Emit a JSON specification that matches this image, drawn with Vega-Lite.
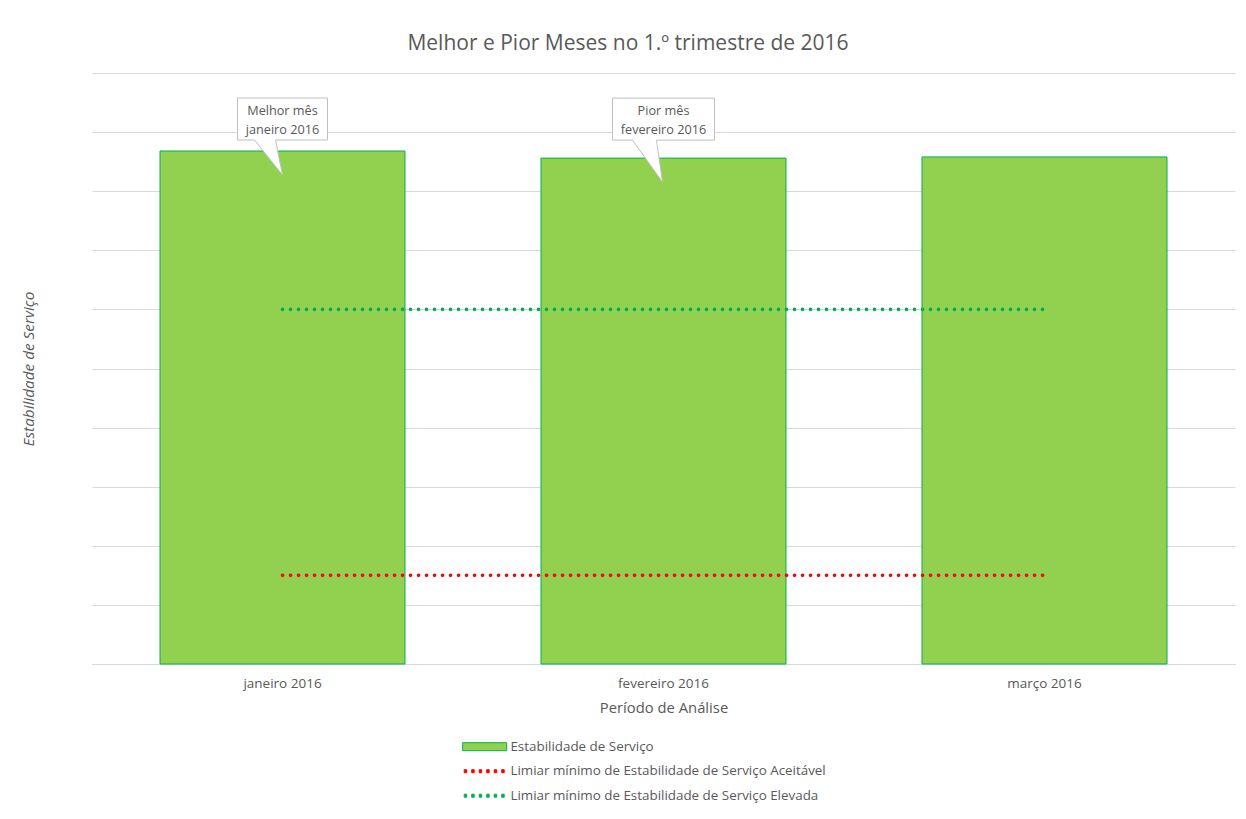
{
  "$schema": "https://vega.github.io/schema/vega-lite/v6.json",
  "width": 1143,
  "height": 591,
  "autosize": {"type": "none"},
  "padding": {"left": 92, "top": 73, "right": 11, "bottom": 155},
  "background": "white",
  "config": {
    "font": "Open Sans",
    "view": {"stroke": null},
    "axis": {"labelColor": "#595959", "titleColor": "#595959", "gridColor": "#D9D9D9", "domainColor": "#D9D9D9", "titleFontWeight": "normal"}
  },
  "title": {
    "text": "Melhor e Pior Meses no 1.º trimestre de 2016",
    "fontSize": 21,
    "fontWeight": "normal",
    "color": "#595959",
    "anchor": "middle",
    "frame": "bounds",
    "offset": 19
  },
  "datasets": {
    "meses": [
      {"mes": "janeiro 2016", "valor": 0.868, "anotacao": "Melhor mês\njaneiro 2016"},
      {"mes": "fevereiro 2016", "valor": 0.856, "anotacao": "Pior mês\nfevereiro 2016"},
      {"mes": "março 2016", "valor": 0.858, "anotacao": ""}
    ],
    "limiares": [
      {"mes": "janeiro 2016", "serie": "Limiar mínimo de Estabilidade de Serviço Aceitável", "valor": 0.15},
      {"mes": "março 2016", "serie": "Limiar mínimo de Estabilidade de Serviço Aceitável", "valor": 0.15},
      {"mes": "janeiro 2016", "serie": "Limiar mínimo de Estabilidade de Serviço Elevada", "valor": 0.6},
      {"mes": "março 2016", "serie": "Limiar mínimo de Estabilidade de Serviço Elevada", "valor": 0.6}
    ],
    "legenda": [
      {"serie": "Estabilidade de Serviço"},
      {"serie": "Limiar mínimo de Estabilidade de Serviço Aceitável"},
      {"serie": "Limiar mínimo de Estabilidade de Serviço Elevada"}
    ]
  },
  "layer": [
    {
      "data": {"name": "meses"},
      "mark": {"type": "bar", "fill": "#92D050", "stroke": "#00B050", "strokeWidth": 1},
      "encoding": {
        "x": {
          "field": "mes",
          "type": "nominal",
          "sort": ["janeiro 2016", "fevereiro 2016", "março 2016"],
          "scale": {"paddingInner": 0.357, "paddingOuter": 0.1785},
          "axis": {"title": "Período de Análise", "labelAngle": 0, "ticks": false, "labelPadding": 12, "labelFontSize": 13.5, "titleFontSize": 14.8, "titlePadding": 11, "grid": false}
        },
        "y": {
          "field": "valor",
          "type": "quantitative",
          "scale": {"domain": [0, 1], "nice": false},
          "axis": {"title": "Estabilidade de Serviço", "labels": false, "ticks": false, "domain": false, "values": [0, 0.1, 0.2, 0.3, 0.4, 0.5, 0.6, 0.7, 0.8, 0.9, 1], "titleFontStyle": "italic", "titleFontSize": 15.3, "titlePadding": 56}
        }
      }
    },
    {
      "data": {"name": "limiares"},
      "mark": {"type": "line", "strokeWidth": 3.6, "strokeCap": "round", "strokeDash": [0.1, 7.9]},
      "encoding": {
        "x": {"field": "mes", "type": "nominal", "sort": ["janeiro 2016", "fevereiro 2016", "março 2016"]},
        "y": {"field": "valor", "type": "quantitative"},
        "detail": {"field": "serie"},
        "color": {
          "field": "serie",
          "type": "nominal",
          "scale": {"domain": ["Limiar mínimo de Estabilidade de Serviço Aceitável", "Limiar mínimo de Estabilidade de Serviço Elevada"], "range": ["#FF0000", "#00B050"]},
          "legend": null
        }
      }
    },
    {
      "data": {"name": "meses"},
      "transform": [{"filter": "datum.mes === 'janeiro 2016'"}],
      "mark": {"type": "point", "shape": "M-45,-53 H45 V-11 H-7 L0,24 L-28,-11 H-45 Z", "size": 4, "filled": true, "fill": "white", "stroke": "#BFBFBF", "strokeWidth": 1, "opacity": 1},
      "encoding": {
        "x": {"field": "mes", "type": "nominal", "sort": ["janeiro 2016", "fevereiro 2016", "março 2016"]},
        "y": {"field": "valor", "type": "quantitative"}
      }
    },
    {
      "data": {"name": "meses"},
      "transform": [{"filter": "datum.mes === 'fevereiro 2016'"}],
      "mark": {"type": "point", "shape": "M-51,-60 H51 V-18 H-7 L-1,24 L-31,-18 H-51 Z", "size": 4, "filled": true, "fill": "white", "stroke": "#BFBFBF", "strokeWidth": 1, "opacity": 1},
      "encoding": {
        "x": {"field": "mes", "type": "nominal", "sort": ["janeiro 2016", "fevereiro 2016", "março 2016"]},
        "y": {"field": "valor", "type": "quantitative"}
      }
    },
    {
      "data": {"name": "meses"},
      "transform": [{"filter": "datum.mes === 'janeiro 2016'"}],
      "mark": {"type": "text", "lineBreak": "\n", "lineHeight": 19, "baseline": "middle", "align": "center", "fontSize": 12.7, "color": "#595959", "yOffset": -40},
      "encoding": {
        "x": {"field": "mes", "type": "nominal", "sort": ["janeiro 2016", "fevereiro 2016", "março 2016"]},
        "y": {"field": "valor", "type": "quantitative"},
        "text": {"field": "anotacao"}
      }
    },
    {
      "data": {"name": "meses"},
      "transform": [{"filter": "datum.mes === 'fevereiro 2016'"}],
      "mark": {"type": "text", "lineBreak": "\n", "lineHeight": 19, "baseline": "middle", "align": "center", "fontSize": 12.7, "color": "#595959", "yOffset": -47},
      "encoding": {
        "x": {"field": "mes", "type": "nominal", "sort": ["janeiro 2016", "fevereiro 2016", "março 2016"]},
        "y": {"field": "valor", "type": "quantitative"},
        "text": {"field": "anotacao"}
      }
    },
    {
      "data": {"name": "legenda"},
      "mark": {"type": "point", "filled": true, "size": 4, "opacity": 0, "strokeWidth": 1},
      "encoding": {
        "fill": {
          "field": "serie",
          "type": "nominal",
          "scale": {"domain": ["Estabilidade de Serviço", "Limiar mínimo de Estabilidade de Serviço Aceitável", "Limiar mínimo de Estabilidade de Serviço Elevada"], "range": ["#92D050", "#FF0000", "#00B050"]},
          "legend": {
            "title": null,
            "orient": "none",
            "legendX": 364,
            "legendY": 667,
            "direction": "vertical",
            "symbolSize": 4,
            "symbolOpacity": 1,
            "symbolStrokeWidth": 1,
            "labelOffset": 41,
            "labelFontSize": 13.4,
            "labelColor": "#595959",
            "labelLimit": 600,
            "rowPadding": 9.5,
            "encode": {"symbols": {"update": {"fill": {"scale": "fill", "field": "value"}, "fillOpacity": {"value": 1}, "opacity": {"value": 1}}}}
          }
        },
        "shape": {
          "field": "serie",
          "type": "nominal",
          "scale": {"domain": ["Estabilidade de Serviço", "Limiar mínimo de Estabilidade de Serviço Aceitável", "Limiar mínimo de Estabilidade de Serviço Elevada"], "range": [
            "M0,-4 H44 V4 H0 Z",
            "M1.5,-1.5 h2.5 v3 h-2.5 Z M9,-1.5 h2.5 v3 h-2.5 Z M16.5,-1.5 h2.5 v3 h-2.5 Z M24,-1.5 h2.5 v3 h-2.5 Z M31.5,-1.5 h2.5 v3 h-2.5 Z M39,-1.5 h2.5 v3 h-2.5 Z",
            "M1.5,-1.5 h2.5 v3 h-2.5 Z M9,-1.5 h2.5 v3 h-2.5 Z M16.5,-1.5 h2.5 v3 h-2.5 Z M24,-1.5 h2.5 v3 h-2.5 Z M31.5,-1.5 h2.5 v3 h-2.5 Z M39,-1.5 h2.5 v3 h-2.5 Z"
          ]}
        },
        "stroke": {
          "field": "serie",
          "type": "nominal",
          "scale": {"domain": ["Estabilidade de Serviço", "Limiar mínimo de Estabilidade de Serviço Aceitável", "Limiar mínimo de Estabilidade de Serviço Elevada"], "range": ["#00B050", "#FF0000", "#00B050"]}
        }
      }
    }
  ]
}
